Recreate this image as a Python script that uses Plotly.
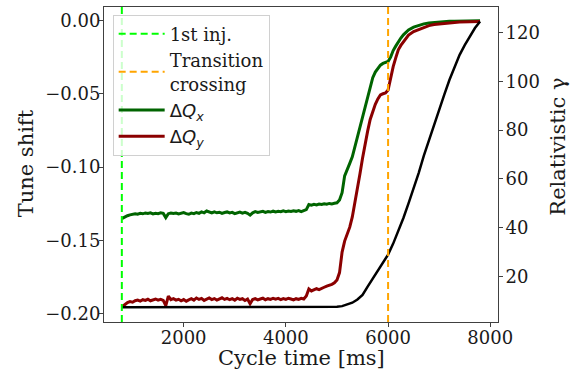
import plotly.graph_objects as go

# ---------------- data ----------------
T_INJ = 790          # 1st injection [ms]
T_TR = 6000          # transition crossing [ms]

t_q = [790, 850, 900, 950, 1000, 1050, 1100, 1150, 1200, 1250, 1300, 1350, 1400, 1450, 1500,
       1550, 1600, 1650, 1700, 1750, 1800, 1850, 1900, 1950, 2000, 2050, 2100, 2150, 2200, 2250,
       2300, 2350, 2400, 2450, 2500, 2550, 2600, 2650, 2700, 2750, 2800, 2850, 2900, 2950, 3000,
       3050, 3100, 3150, 3200, 3250, 3300, 3350, 3400, 3450, 3500, 3550, 3600, 3650, 3700, 3750,
       3800, 3850, 3900, 3950, 4000, 4050, 4100, 4150, 4200, 4250, 4300, 4350, 4400, 4450, 4500,
       4550, 4600, 4650, 4700, 4750, 4800, 4850, 4900, 4950, 5000, 5050, 5100, 5150, 5200, 5250,
       5300, 5350, 5400, 5450, 5500, 5550, 5600, 5650, 5700, 5750, 5800, 5850, 5900, 5950, 6000,
       6050, 6100, 6150, 6200, 6250, 6300, 6350, 6400, 6500, 6600, 6700, 6800, 6900, 7000, 7100,
       7200, 7300, 7400, 7500, 7600, 7700, 7800]

dq_x = [-0.1352, -0.1340, -0.1332, -0.1326, -0.1324, -0.1318, -0.1322, -0.1316, -0.1319, -0.1313,
        -0.1317, -0.1312, -0.1320, -0.1315, -0.1318, -0.1312, -0.1316, -0.1345, -0.1318, -0.1313,
        -0.1317, -0.1314, -0.1320, -0.1316, -0.1311, -0.1318, -0.1322, -0.1314, -0.1318, -0.1310,
        -0.1316, -0.1306, -0.1312, -0.1300, -0.1308, -0.1313, -0.1305, -0.1312, -0.1308, -0.1316,
        -0.1310, -0.1306, -0.1313, -0.1309, -0.1318, -0.1311, -0.1307, -0.1314, -0.1309, -0.1316,
        -0.1328, -0.1312, -0.1304, -0.1310, -0.1306, -0.1302, -0.1309, -0.1304, -0.1307, -0.1301,
        -0.1306, -0.1302, -0.1305, -0.1299, -0.1304, -0.1300, -0.1303, -0.1298, -0.1302, -0.1297,
        -0.1304, -0.1299, -0.1290, -0.1256, -0.1260, -0.1254, -0.1258, -0.1252, -0.1255, -0.1250,
        -0.1253, -0.1248, -0.1251, -0.1247, -0.1244, -0.1225, -0.1175, -0.1060, -0.1010, -0.0975,
        -0.0930, -0.0860, -0.0790, -0.0722, -0.0655, -0.0585, -0.0510, -0.0445, -0.0390, -0.0352,
        -0.0325, -0.0305, -0.0293, -0.0288, -0.0280, -0.0250, -0.0205, -0.0175, -0.0145, -0.0120,
        -0.0098, -0.0080, -0.0065, -0.0045, -0.0032, -0.0023, -0.0017, -0.0013, -0.0010, -0.0008,
        -0.0006, -0.0005, -0.0004, -0.0003, -0.0003, -0.0002, -0.0002]

dq_y = [-0.1955, -0.1935, -0.1925, -0.1918, -0.1922, -0.1912, -0.1908, -0.1915, -0.1905, -0.1910,
        -0.1902, -0.1912, -0.1906, -0.1900, -0.1908, -0.1903, -0.1910, -0.1945, -0.1880, -0.1905,
        -0.1898, -0.1908, -0.1902, -0.1912, -0.1904, -0.1915, -0.1906, -0.1898, -0.1908, -0.1893,
        -0.1903, -0.1896, -0.1910, -0.1900, -0.1893, -0.1904, -0.1897, -0.1907, -0.1899, -0.1892,
        -0.1903, -0.1896, -0.1905, -0.1898, -0.1908, -0.1895, -0.1903, -0.1898, -0.1910, -0.1900,
        -0.1932, -0.1904, -0.1897, -0.1906, -0.1900, -0.1894, -0.1905, -0.1898, -0.1903, -0.1895,
        -0.1901, -0.1896, -0.1904, -0.1897, -0.1903, -0.1895, -0.1900, -0.1906, -0.1898, -0.1903,
        -0.1896, -0.1900, -0.1880, -0.1832, -0.1845, -0.1838, -0.1830, -0.1836, -0.1826, -0.1820,
        -0.1812, -0.1808, -0.1800, -0.1790, -0.1770, -0.1720, -0.1580, -0.1505, -0.1460, -0.1410,
        -0.1340, -0.1250, -0.1140, -0.1045, -0.0940, -0.0837, -0.0755, -0.0675, -0.0620, -0.0572,
        -0.0535, -0.0508, -0.0500, -0.0495, -0.0475, -0.0385, -0.0315, -0.0255, -0.0200, -0.0170,
        -0.0145, -0.0120, -0.0100, -0.0075, -0.0060, -0.0045, -0.0035, -0.0028, -0.0023, -0.0019,
        -0.0016, -0.0013, -0.0011, -0.0009, -0.0008, -0.0007, -0.0007]

t_g = [790, 4800, 4900, 5000, 5100, 5200, 5300, 5400, 5500, 5600, 5700, 5800, 5900, 6000, 6100,
       6200, 6300, 6400, 6500, 6600, 6700, 6800, 6900, 7000, 7100, 7200, 7300, 7400, 7500, 7600,
       7700, 7800]
gamma = [7.4, 7.4, 7.45, 7.6, 7.9, 8.5, 9.3, 10.6, 12.5, 15.9, 19.2, 22.5, 25.8, 29.0, 33.5,
         38.5, 44.0, 50.0, 56.0, 62.5, 69.5, 76.0, 82.5, 88.5, 94.5, 100.5, 106.0, 110.8, 114.8,
         118.6, 121.8, 124.5]

X_RANGE = [441, 8151]
Y_RANGE = [-0.2057, 0.0092]
Y2_RANGE = [1.4, 130.4]
X_TICKS = [2000, 4000, 6000, 8000]
Y_TICKS = [0.0, -0.05, -0.10, -0.15, -0.20]
Y2_TICKS = [20, 40, 60, 80, 100, 120]

SERIF = "DejaVu Serif"
AX = "#404040"
TXT = "#1a1a1a"

fig = go.Figure()

fig.add_trace(go.Scatter(x=t_q, y=dq_x, mode="lines", yaxis="y",
                         line=dict(color="#006400", width=3),
                         name="<span style='font-family:DejaVu Sans'>Δ<i>Q</i><sub><i>x</i></sub></span>",
                         legendrank=3))
fig.add_trace(go.Scatter(x=t_q, y=dq_y, mode="lines", yaxis="y",
                         line=dict(color="#8B0000", width=3),
                         name="<span style='font-family:DejaVu Sans'>Δ<i>Q</i><sub><i>y</i></sub></span>",
                         legendrank=4))
fig.add_trace(go.Scatter(x=t_g, y=gamma, mode="lines", yaxis="y2",
                         line=dict(color="black", width=2.5), showlegend=False))
fig.add_trace(go.Scatter(x=[T_INJ, T_INJ], y=Y2_RANGE, mode="lines", yaxis="y2",
                         line=dict(color="#00FF00", width=2, dash="7px,4px"),
                         name="1st inj.", legendrank=1))
fig.add_trace(go.Scatter(x=[T_TR, T_TR], y=Y2_RANGE, mode="lines", yaxis="y2",
                         line=dict(color="#FFA500", width=2, dash="7px,4px"),
                         name="Transition<br>crossing", legendrank=2))

tickfont = dict(family=SERIF, size=18, color=TXT)
fig.update_layout(
    width=572, height=376,
    margin=dict(l=104, r=74, t=7, b=54),
    paper_bgcolor="white", plot_bgcolor="white",
    showlegend=True,
    legend=dict(x=0.022, y=0.976, xanchor="left", yanchor="top",
                bgcolor="rgba(255,255,255,0.8)", bordercolor="#d0d0d0", borderwidth=1,
                font=dict(family=SERIF, size=18, color=TXT),
                itemwidth=46, entrywidth=150, tracegroupgap=0),
    xaxis=dict(range=X_RANGE, tickvals=X_TICKS, showgrid=False, zeroline=False,
               showline=True, mirror=True, linecolor=AX, linewidth=1,
               ticks="outside", ticklen=4, tickcolor=AX, tickfont=tickfont,
               ticklabelstandoff=-5),
    yaxis=dict(range=Y_RANGE, tickvals=Y_TICKS, tickformat=".2f", showgrid=False, zeroline=False,
               showline=True, mirror=True, linecolor=AX, linewidth=1,
               ticks="outside", ticklen=4, tickcolor=AX, tickfont=tickfont,
               ticklabelstandoff=-5),
    yaxis2=dict(range=Y2_RANGE, tickvals=Y2_TICKS, overlaying="y", side="right",
                showgrid=False, zeroline=False, showline=False,
                ticks="outside", ticklen=4, tickcolor=AX, tickfont=tickfont,
                ticklabelstandoff=-1),
    annotations=[
        dict(text="Cycle time [ms]", xref="paper", yref="paper", x=0.5, y=-0.1155,
             xanchor="center", yanchor="middle", showarrow=False,
             font=dict(family=SERIF, size=21, color=TXT)),
        dict(text="Tune shift", xref="paper", yref="paper", x=-0.197, y=0.505,
             xanchor="center", yanchor="middle", showarrow=False, textangle=-90,
             font=dict(family=SERIF, size=21, color=TXT)),
        dict(text="Relativistic γ", xref="paper", yref="paper", x=1.150, y=0.557,
             xanchor="center", yanchor="middle", showarrow=False, textangle=-90,
             font=dict(family=SERIF, size=21, color=TXT)),
    ],
)

fig.write_html("out.html")
